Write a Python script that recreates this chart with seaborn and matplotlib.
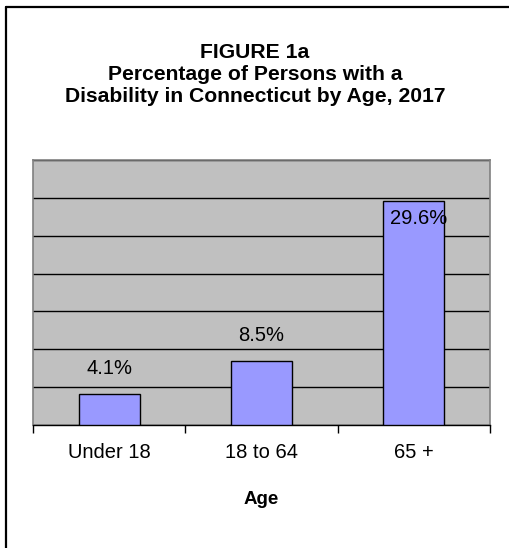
import matplotlib
matplotlib.use("Agg")
import matplotlib.pyplot as plt
from matplotlib.lines import Line2D
import seaborn as sns
import pandas as pd

# Data
age_groups = ["Under 18", "18 to 64", "65 +"]
pct_disabled = [4.1, 8.5, 29.6]
value_labels = ["4.1%", "8.5%", "29.6%"]

title_lines = ["FIGURE 1a", "Percentage of Persons with a",
               "Disability in Connecticut by Age, 2017"]

sns.set_theme(style="white")
plt.rcParams["font.family"] = ["Liberation Sans", "DejaVu Sans"]
plt.rcParams["text.color"] = "black"

df = pd.DataFrame({"age": age_groups, "pct": pct_disabled})

fig = plt.figure(figsize=(5.10, 5.48), dpi=100)
fig.patch.set_facecolor("white")

# Outer chart frame (left and top edges)
fig.add_artist(Line2D([6.5 / 510, 6.5 / 510], [0, 1 - 7 / 548],
                      transform=fig.transFigure, color="black", lw=1.6))
fig.add_artist(Line2D([6.5 / 510, 1], [1 - 7 / 548, 1 - 7 / 548],
                      transform=fig.transFigure, color="black", lw=1.6))

ax = fig.add_axes([33 / 510, 1 - 425 / 548, (490 - 33) / 510, (425 - 160) / 548])
ax.set_facecolor("#C0C0C0")

sns.barplot(data=df, x="age", y="pct", ax=ax, color="#9999FF",
            edgecolor="black", linewidth=1.0, width=0.4, saturation=1,
            zorder=3)

ax.set_ylim(0, 35)
ax.set_yticks(range(0, 36, 5))
ax.yaxis.grid(True, color="black", linewidth=1.0, zorder=0)
ax.set_axisbelow(True)
ax.tick_params(axis="y", left=False, labelleft=False)
ax.set_xlim(-0.5, 2.5)

# Category ticks sit between groups
ax.set_xticks([-0.5, 0.5, 1.5, 2.5])
ax.set_xticklabels([])
ax.tick_params(axis="x", bottom=True, length=6, width=1, color="black",
               direction="out")
for i, lab in enumerate(age_groups):
    ax.text(i, -0.105, lab, transform=ax.get_xaxis_transform(),
            ha="center", va="center", fontsize=14.5, color="black")

for side in ["top", "right", "left"]:
    ax.spines[side].set_color("#808080")
    ax.spines[side].set_linewidth(1.2)
ax.spines["bottom"].set_color("black")
ax.spines["bottom"].set_linewidth(1.0)

ax.set_xlabel("")
ax.set_ylabel("")
ax.text(0.5, -0.283, "Age", transform=ax.transAxes, ha="center",
        va="center", fontsize=13.5, fontweight="bold", color="black")

# Value labels
for i, (v, lab) in enumerate(zip(pct_disabled, value_labels)):
    if v > 27:
        ax.text(i + 0.03, v - 2.3, lab, ha="center", va="center",
                fontsize=14.5, zorder=4, color="black")
    else:
        ax.text(i, v + 3.3, lab, ha="center", va="center",
                fontsize=14.5, zorder=4, color="black")

# Title
for k, line in enumerate(title_lines):
    fig.text(0.5, 1 - (53 + 22 * k) / 548, line, ha="center", va="center",
             fontsize=15.2, fontweight="bold", color="black")

fig.savefig("out.png", dpi=100, facecolor="white")
